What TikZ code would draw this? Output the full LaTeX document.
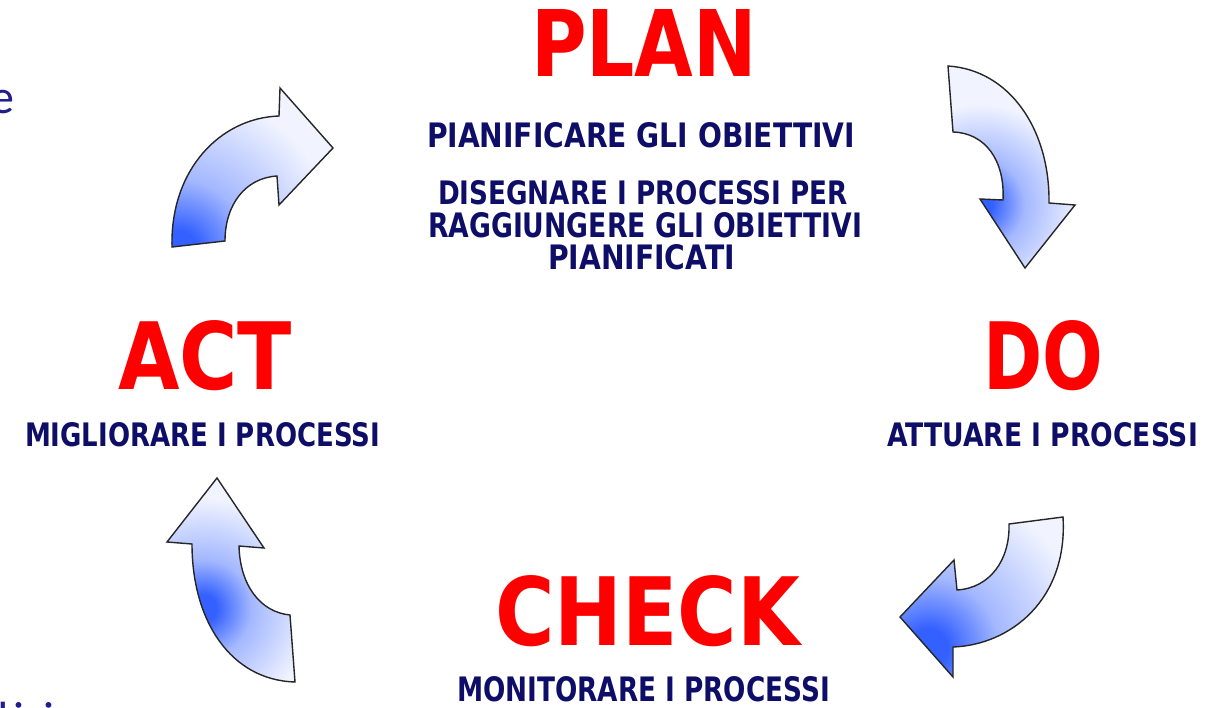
\documentclass[tikz,border=0pt]{standalone}
\usepackage{graphicx}
\usepackage{fontspec}
\setmainfont{DejaVu Sans}
\newfontfamily\redfont{DejaVu Sans}
\newfontfamily\bluefont{DejaVu Sans}
\newfontfamily\strayfont{Carlito}
\definecolor{tred}{RGB}{255,0,0}
\definecolor{tnavy}{RGB}{14,14,104}
\definecolor{snavy}{RGB}{30,30,140}
\definecolor{arrowblue}{RGB}{51,96,255}
\colorlet{arrowmid}{arrowblue!45!white}
\colorlet{arrowlight}{arrowblue!7!white}
\pgfdeclareradialshading{blob}{\pgfpoint{0bp}{0bp}}{%
  color(0bp)=(arrowblue); color(3bp)=(arrowblue); color(11bp)=(arrowmid);
  color(25bp)=(arrowlight); color(50bp)=(arrowlight)}
\tikzset{
  fitbox/.style={inner sep=0pt, outer sep=0pt, anchor=south west},
  redtitle/.style={fitbox, text=tred, font=\redfont\bfseries},
  bluetext/.style={fitbox, text=tnavy, font=\bluefont\bfseries},
  straytext/.style={inner sep=0pt, outer sep=0pt, text=snavy, font=\strayfont\fontsize{48}{56}\selectfont},
  arrowline/.style={draw=black!85, line width=1.4pt, line join=miter},
  arrowfill/.style={shading=blob},
}
% arrow outlines (pixel coordinates, y downwards)
\newcommand\pathTL{(172,247) .. controls (170,170) and (220,118) .. (279,116)
  -- (280,88) -- (333,148) -- (279,205) -- (277,176)
  .. controls (245,178) and (225,205) .. (225,241) -- cycle}
\newcommand\pathTR{(948,66) .. controls (1010,70) and (1050,130) .. (1049,203)
  -- (1075,205) -- (1025,268) -- (980,199) -- (1003,200)
  .. controls (1005,160) and (985,133) .. (953,132) -- cycle}
\newcommand\pathBR{(1063,517) .. controls (1068,600) and (1010,645) .. (953,647)
  -- (953,677) -- (900,617) -- (954,560) -- (957,590)
  .. controls (990,588) and (1010,560) .. (1009,524) -- cycle}
\newcommand\pathBL{(295,682) .. controls (230,680) and (192,620) .. (192,544)
  -- (167,542) -- (217,478) -- (264,548) -- (239,546)
  .. controls (240,585) and (260,612) .. (290,615) -- cycle}
\begin{document}
\begin{tikzpicture}[x=1pt,y=-1pt]
\useasboundingbox[fill=white] (0,0) rectangle (1209,708);

% stray fragments at the left edge
\node[straytext, anchor=base east] (se) at (14,114) {e};
\node[straytext, anchor=base east] (si) at (3,516) {i};
\node[straytext, anchor=base east] (sd) at (9,735) {d};
\node[straytext, anchor=base west] (si1) at (13,735) {i};
\node[straytext, anchor=base west] (si2) at (43,735) {i};

% titles
\node[redtitle] (plan) at (531,77) {\resizebox{226pt}{67pt}{PLAN}};
\node[redtitle] (act) at (118,391) {\resizebox{174pt}{69pt}{ACT}};
\node[redtitle] (do) at (983,391) {\resizebox{120pt}{69pt}{DO}};
\node[redtitle] (check) at (495,647) {\resizebox{305pt}{70pt}{CHECK}};

% descriptions
\node[bluetext] (p1) at (427,148) {\resizebox{428pt}{25pt}{PIANIFICARE GLI OBIETTIVI}};
\node[bluetext] (p2) at (438,205) {\resizebox{410pt}{24pt}{DISEGNARE I PROCESSI PER}};
\node[bluetext] (p3) at (428,238) {\resizebox{434pt}{25pt}{RAGGIUNGERE GLI OBIETTIVI}};
\node[bluetext] (p4) at (548,270) {\resizebox{187pt}{25pt}{PIANIFICATI}};
\node[bluetext] (a1) at (25,447) {\resizebox{355pt}{24pt}{MIGLIORARE I PROCESSI}};
\node[bluetext] (d1) at (887,447) {\resizebox{311pt}{24pt}{ATTUARE I PROCESSI}};
\node[bluetext] (c1) at (457,702) {\resizebox{373pt}{25pt}{MONITORARE I PROCESSI}};

% curved block arrows with blue-to-white gradient
% top-left (ACT -> PLAN)
\begin{scope}
  \clip \pathTL;
  \fill[arrowlight] (150,70) rectangle (350,260);
  \shade[arrowfill] (178,250) circle (160);
\end{scope}
\path[arrowline] \pathTL;
% top-right (PLAN -> DO)
\begin{scope}
  \clip \pathTR;
  \fill[arrowlight] (930,50) rectangle (1090,280);
  \shade[arrowfill] (980,204) circle (100);
\end{scope}
\path[arrowline] \pathTR;
% bottom-right (DO -> CHECK)
\begin{scope}
  \clip \pathBR;
  \fill[arrowlight] (890,500) rectangle (1080,690);
  \shade[arrowfill] (928,648) circle (160);
\end{scope}
\path[arrowline] \pathBR;
% bottom-left (CHECK -> ACT)
\begin{scope}
  \clip \pathBL;
  \fill[arrowlight] (150,470) rectangle (310,690);
  \shade[arrowfill] (203,608) circle (110);
\end{scope}
\path[arrowline] \pathBL;
\end{tikzpicture}
\end{document}
